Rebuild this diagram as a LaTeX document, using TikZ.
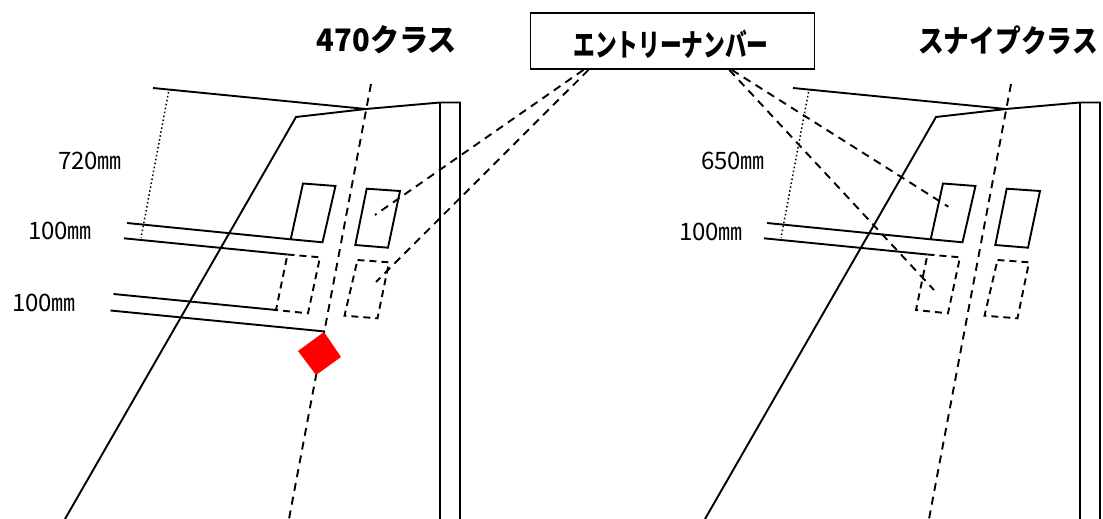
\documentclass[tikz,border=0pt]{standalone}
\usepackage{fontspec}
\newfontfamily\jpfont{Noto Sans CJK JP}
\usetikzlibrary{positioning}
\tikzset{
  linha/.style={line width=1.9pt},
  tracejada/.style={line width=1.9pt,dash pattern=on 8pt off 6pt},
  pontilhada/.style={line width=1.5pt,dash pattern=on 1.5pt off 2.5pt},
  medida/.style={font=\jpfont\fontsize{24}{24}\selectfont,inner sep=0pt},
  titulo/.style={font=\jpfont\bfseries\fontsize{31}{31}\selectfont,inner sep=0pt},
}
\begin{document}
\begin{tikzpicture}[x=1pt,y=-1pt]
\useasboundingbox (0,0) rectangle (1103,519);

% Caixa central
\node[draw,linha,minimum width=284pt,minimum height=56pt,inner sep=0pt] (entry) at (672.5,41) {};
\node[titulo,xscale=0.7,transform shape] (entrytext) at (671,44) {エントリーナンバー};

% Titulos
\node[titulo,xscale=0.94,transform shape] (class470) at (387,40) {470クラス};
\node[titulo,xscale=0.83,transform shape] (classsnipe) at (1008,40) {スナイプクラス};

% Medidas da esquerda
\node[medida] (dimA) at (90,161) {720㎜};
\node[medida] (dimB) at (60,231) {100㎜};
\node[medida] (dimC) at (44,303) {100㎜};

% Medidas da direita
\node[medida] (dimD) at (733,161) {650㎜};
\node[medida] (dimE) at (711,232) {100㎜};

% Casco esquerdo
\draw[linha] (65,519) -- (296,117) -- (366,109) -- (440,102.5) -- (460,102.5) -- (460,519);
\draw[linha] (440,102.5) -- (440,519);
\draw[linha] (153,88) -- (366,109);

% Eixo do mastro esquerdo
\draw[tracejada] (371,84) -- (289,519);

% Altura 720
\draw[pontilhada] (168.5,92) -- (141,238);

% Linhas de 100
\draw[linha] (127,223) -- (290.7,239.3);
\draw[linha] (124,238.3) -- (287.5,254.5);
\draw[linha] (113.5,294) -- (276,310);
\draw[linha] (110.5,310.5) -- (325,331.5);

% Numeros esquerdos
\draw[linha] (303,183.5) -- (335.5,186) -- (322.5,242.3) -- (290.7,239.3) -- cycle;
\draw[linha] (366.7,188.7) -- (400,191) -- (388,247.7) -- (355.3,245) -- cycle;
\draw[tracejada,dash pattern=on 7pt off 5pt] (287.5,254.5) -- (320,257.3) -- (308,313.3) -- (276,310) -- cycle;
\draw[tracejada,dash pattern=on 7pt off 5pt] (357.5,260) -- (389,262.3) -- (377.5,318.3) -- (344.5,315.7) -- cycle;

% Marca vermelha
\fill[red] (324,332) -- (341,357) -- (316,375) -- (298,351) -- cycle;

% Casco direito
\draw[linha] (705,519) -- (936,117) -- (1006,109) -- (1080,102.5) -- (1100,102.5) -- (1100,519);
\draw[linha] (1080,102.5) -- (1080,519);
\draw[linha] (793,88) -- (1006,109);

% Eixo do mastro direito
\draw[tracejada] (1011,84) -- (929,519);

% Altura 650
\draw[pontilhada] (808.5,92) -- (781,238);

% Linhas de 100
\draw[linha] (767,223) -- (930.7,239.3);
\draw[linha] (764,238.3) -- (927.5,254.5);

% Numeros direitos
\draw[linha] (943,183.5) -- (975.5,186) -- (962.5,242.3) -- (930.7,239.3) -- cycle;
\draw[linha] (1006.7,188.7) -- (1040,191) -- (1028,247.7) -- (995.3,245) -- cycle;
\draw[tracejada,dash pattern=on 7pt off 5pt] (927.5,254.5) -- (960,257.3) -- (948,313.3) -- (916,310) -- cycle;
\draw[tracejada,dash pattern=on 7pt off 5pt] (997.5,260) -- (1029,262.3) -- (1017.5,318.3) -- (984.5,315.7) -- cycle;

% Pontas livres das ligacoes
\coordinate (numA) at (375,215);
\coordinate (numB) at (376,282);
\coordinate (numC) at (948.3,206.7);
\coordinate (numD) at (934,290);

% Ligacoes
\draw[tracejada] (entry.198.2) -- (numA);
\draw[tracejada] (entry.199.2) -- (numB);
\draw[tracejada] (entry.334.4) -- (numC);
\draw[tracejada] (entry.333.2) -- (numD);

\end{tikzpicture}
\end{document}
